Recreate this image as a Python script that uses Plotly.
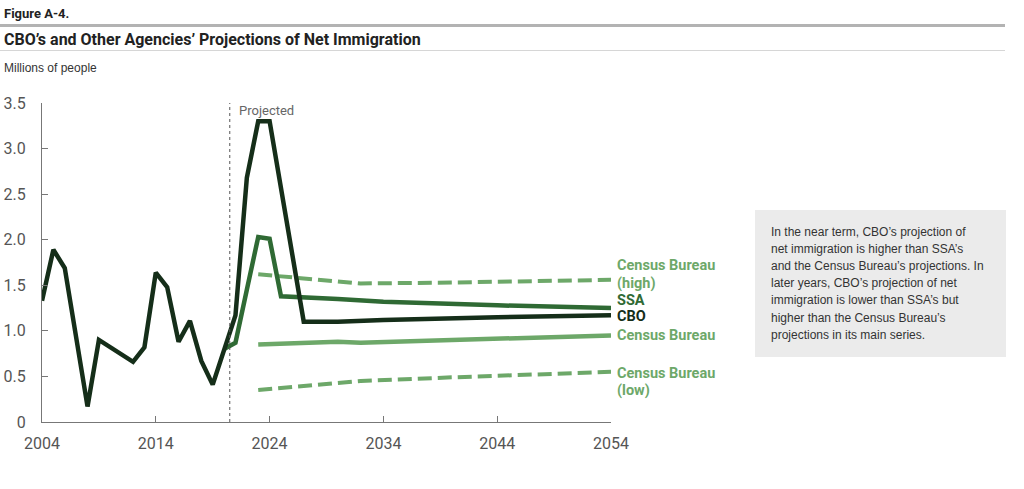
import plotly.graph_objects as go

# ---------------- data ----------------
cbo_years = [2004, 2005, 2006, 2007, 2008, 2009, 2010, 2011, 2012, 2013, 2014, 2015, 2016,
             2017, 2018, 2019, 2020, 2021, 2022, 2023, 2024, 2025, 2026, 2027, 2030, 2034,
             2044, 2054]
cbo_vals = [1.33, 1.89, 1.69, 0.93, 0.17, 0.90, 0.82, 0.74, 0.66, 0.82, 1.64, 1.48, 0.88,
            1.11, 0.67, 0.41, 0.80, 1.17, 2.68, 3.30, 3.30, 2.57, 1.83, 1.10, 1.10, 1.12,
            1.15, 1.17]

ssa_years = [2020, 2021, 2022, 2023, 2024, 2025, 2030, 2034, 2044, 2054]
ssa_vals = [0.80, 0.87, 1.45, 2.03, 2.01, 1.38, 1.35, 1.32, 1.28, 1.25]

census_years = [2023, 2030, 2032, 2040, 2054]
census_main = [0.85, 0.88, 0.87, 0.90, 0.95]
census_high = [1.62, 1.54, 1.52, 1.53, 1.56]
census_low = [0.35, 0.43, 0.45, 0.49, 0.55]

x_ticks = [2004, 2014, 2024, 2034, 2044, 2054]
y_ticks = [0, 0.5, 1.0, 1.5, 2.0, 2.5, 3.0, 3.5]
y_ticktext = ["0", "0.5", "1.0", "1.5", "2.0", "2.5", "3.0", "3.5"]
projection_start = 2020.5

note_lines = [
    "In the near term, CBO’s projection of",
    "net immigration is higher than SSA’s",
    "and the Census Bureau’s projections. In",
    "later years, CBO’s projection of net",
    "immigration is lower than SSA’s but",
    "higher than the Census Bureau’s",
    "projections in its main series.",
]

# ---------------- style ----------------
W, H = 1024, 489
L, R, T, B = 42, 413, 103, 67
PW, PH = W - L - R, H - T - B
C_CBO = "#152e19"
C_SSA = "#2f6a34"
C_CEN = "#6da869"
NARROW = "Liberation Sans Narrow, Roboto, Arial"
ARIAL = "Liberation Sans, Arial"


def px(x):
    return (x - L) / PW


def py(y):
    return (H - B - y) / PH


fig = go.Figure()

fig.add_trace(go.Scatter(x=census_years, y=census_high, mode="lines",
                         line=dict(color=C_CEN, width=4, dash="14px,6px"), name="Census Bureau (high)"))
fig.add_trace(go.Scatter(x=census_years, y=census_low, mode="lines",
                         line=dict(color=C_CEN, width=4, dash="14px,6px"), name="Census Bureau (low)"))
fig.add_trace(go.Scatter(x=census_years, y=census_main, mode="lines",
                         line=dict(color=C_CEN, width=4.5), name="Census Bureau"))
fig.add_trace(go.Scatter(x=ssa_years, y=ssa_vals, mode="lines",
                         line=dict(color=C_SSA, width=4.5), name="SSA"))
fig.add_trace(go.Scatter(x=cbo_years, y=cbo_vals, mode="lines",
                         line=dict(color=C_CBO, width=4.5), name="CBO"))

shapes = [
    dict(type="line", xref="x", yref="y", x0=projection_start, x1=projection_start, y0=0, y1=3.5,
         line=dict(color="#555", width=1, dash="dot")),
    dict(type="line", xref="paper", yref="paper", x0=px(0), x1=px(1005), y0=py(25.5), y1=py(25.5),
         line=dict(color="#b3b3b3", width=3)),
    dict(type="line", xref="paper", yref="paper", x0=px(0), x1=px(1005), y0=py(50.5), y1=py(50.5),
         line=dict(color="#d6d6d6", width=1)),
    dict(type="rect", xref="paper", yref="paper", x0=px(755), x1=px(1006), y0=py(357), y1=py(210),
         fillcolor="#ebebeb", line=dict(width=0), layer="below"),
]

ann = []


def text(x, y, s, size, color, family, bold=False, anchor="left"):
    ann.append(dict(xref="paper", yref="paper", x=px(x), y=py(y), text=("<b>%s</b>" % s) if bold else s,
                    showarrow=False, xanchor=anchor, yanchor="middle",
                    font=dict(size=size, color=color, family=family)))


text(2, 13, "Figure A-4.", 13, "#222", NARROW, bold=True)
text(2, 40, "CBO’s and Other Agencies’ Projections of Net Immigration", 16, "#222", NARROW, bold=True)
text(2, 68, "Millions of people", 12, "#333", ARIAL)
text(237, 110, "Projected", 13, "#666", NARROW)

for i, line in enumerate(note_lines):
    text(769, 231.5 + i * 17.2, line, 12, "#333", ARIAL)

LS = 14.5
text(615, 265, "Census Bureau", LS, C_CEN, NARROW, bold=True)
text(615, 283, "(high)", LS, C_CEN, NARROW, bold=True)
text(615, 300, "SSA", LS, C_SSA, NARROW, bold=True)
text(615, 316, "CBO", LS, C_CBO, NARROW, bold=True)
text(615, 335, "Census Bureau", LS, C_CEN, NARROW, bold=True)
text(615, 373, "Census Bureau", LS, C_CEN, NARROW, bold=True)
text(615, 390, "(low)", LS, C_CEN, NARROW, bold=True)

fig.update_layout(
    width=W, height=H,
    margin=dict(l=L, r=R, t=T, b=B, pad=0, autoexpand=False),
    paper_bgcolor="white", plot_bgcolor="white",
    showlegend=False,
    hovermode=False,
    shapes=shapes,
    annotations=ann,
    xaxis=dict(range=[2004, 2054], tickvals=x_ticks, ticks="inside", ticklen=6, tickcolor="#777",
               showline=True, linecolor="#777", linewidth=1, showgrid=False, zeroline=False,
               automargin=False,
               tickfont=dict(size=16, color="#555", family=NARROW), ticklabelstandoff=7),
    yaxis=dict(range=[0, 3.5], tickvals=y_ticks, ticktext=y_ticktext, ticks="inside", ticklen=6,
               tickcolor="#777", showline=True, linecolor="#777", linewidth=1, showgrid=False,
               zeroline=False, automargin=False,
               tickfont=dict(size=16, color="#555", family=NARROW),
               ticklabelstandoff=12),
)

fig.write_html("out.html", config={"displayModeBar": False},
               post_script="document.body.style.margin='0';")
